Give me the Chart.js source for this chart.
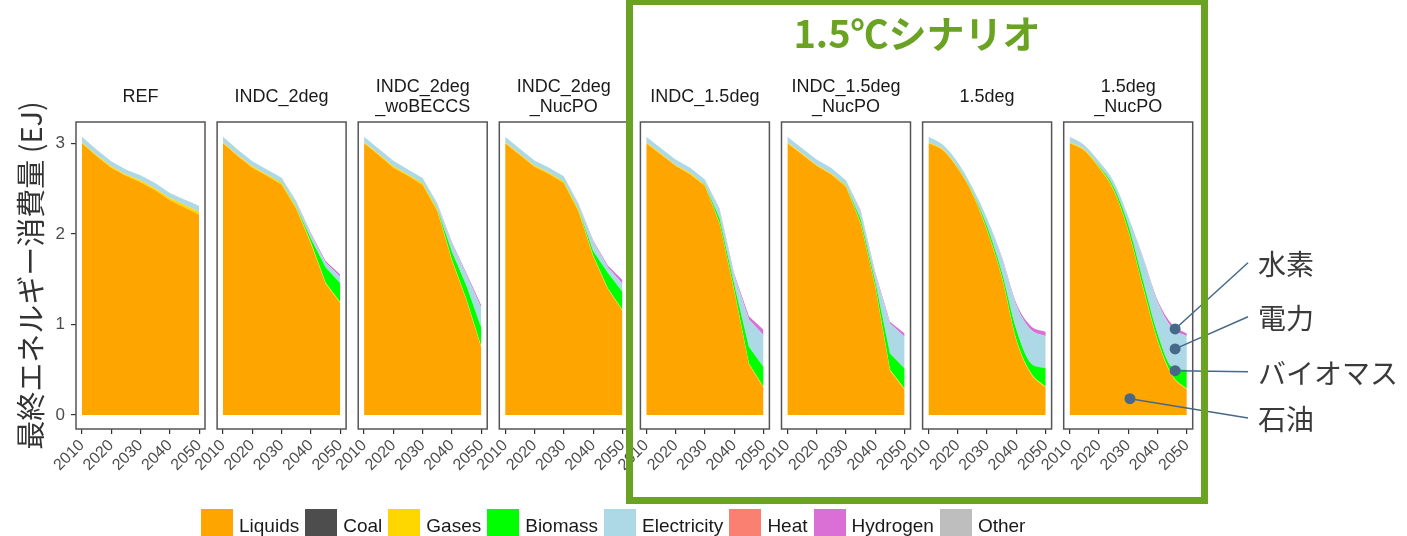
<!DOCTYPE html>
<html><head><meta charset="utf-8">
<script src="https://cdn.jsdelivr.net/npm/chart.js@4/dist/chart.umd.min.js"></script>
<style>
html,body{margin:0;padding:0;background:#fff;}
#wrap{position:relative;width:1407px;height:536px;overflow:hidden;background:#fff;}
canvas.panel{position:absolute;left:0;top:0;}
.strip{position:absolute;text-align:center;font-family:"Liberation Sans",Arial,sans-serif;font-size:18px;line-height:20px;color:#1a1a1a;white-space:nowrap;}
#frame{position:absolute;left:626px;top:-2px;width:582px;height:506px;box-sizing:border-box;border:7px solid #6aa321;}
#ftitle{position:absolute;left:626px;width:582px;top:11px;text-align:center;font-family:"Noto Sans CJK JP",sans-serif;font-weight:700;font-size:38px;line-height:42px;color:#6aa321;}
.ann{position:absolute;left:1258px;font-family:"Noto Sans CJK JP",sans-serif;font-size:28px;line-height:34px;color:#3a3a3a;white-space:nowrap;}
#legend{position:absolute;left:201px;top:509px;display:flex;align-items:flex-start;font-family:"Liberation Sans",Arial,sans-serif;font-size:19px;color:#1a1a1a;}
#legend .sw{display:inline-block;width:32px;height:27px;margin-right:6px;}
#legend .lt{display:inline-block;margin-right:6px;line-height:22px;margin-top:6px;}
</style></head>
<body><div id="wrap"><div id="frame"></div><div id="ftitle">1.5℃シナリオ</div><div id="legend"></div></div>
<script>
// ---- data ----
const years = [2010, 2015, 2020, 2025, 2030, 2035, 2040, 2045, 2050];
const scenarios = ['REF', 'INDC_2deg', 'INDC_2deg_woBECCS', 'INDC_2deg_NucPO', 'INDC_1.5deg', 'INDC_1.5deg_NucPO', '1.5deg', '1.5deg_NucPO'];
const stripLabels = [['REF'], ['INDC_2deg'], ['INDC_2deg', '_woBECCS'], ['INDC_2deg', '_NucPO'], ['INDC_1.5deg'], ['INDC_1.5deg', '_NucPO'], ['1.5deg'], ['1.5deg', '_NucPO']];
const fuels = ['Liquids', 'Coal', 'Gases', 'Biomass', 'Electricity', 'Heat', 'Hydrogen', 'Other'];
const fuelColors = ['#FFA500', '#4D4D4D', '#FFD700', '#00FF00', '#ADD8E6', '#FA8072', '#DA70D6', '#BEBEBE'];
const xTicks = [2010, 2020, 2030, 2040, 2050];
const yTicks = [0, 1, 2, 3];
const smoothPanels = ['1.5deg', '1.5deg_NucPO'];

// one row per scenario (same order as `scenarios`), one value per year (EJ)
const liquids = [
  [3.00, 2.86, 2.73, 2.64, 2.57, 2.48, 2.37, 2.29, 2.21],
  [3.00, 2.86, 2.73, 2.64, 2.545, 2.275, 1.89, 1.45, 1.235],
  [3.00, 2.87, 2.73, 2.64, 2.54, 2.25, 1.70, 1.26, 0.74],
  [3.00, 2.87, 2.74, 2.66, 2.56, 2.25, 1.75, 1.39, 1.15],
  [3.00, 2.875, 2.75, 2.655, 2.53, 2.11, 1.37, 0.56, 0.30],
  [3.00, 2.875, 2.75, 2.655, 2.52, 2.11, 1.41, 0.49, 0.28],
  [3.00, 2.92, 2.72, 2.44, 2.03, 1.52, 0.82, 0.45, 0.30],
  [3.00, 2.92, 2.73, 2.48, 2.03, 1.41, 0.82, 0.43, 0.28]
];
const coal = [0, 0, 0, 0, 0, 0, 0, 0, 0];
const gases = [
  [0.01, 0.01, 0.015, 0.015, 0.02, 0.02, 0.025, 0.03, 0.03],
  [0.01, 0.01, 0.015, 0.015, 0.015, 0.015, 0.015, 0.01, 0.01],
  [0.01, 0.01, 0.015, 0.015, 0.015, 0.015, 0.01, 0.01, 0.01],
  [0.01, 0.01, 0.015, 0.015, 0.015, 0.015, 0.01, 0.01, 0.01],
  [0.01, 0.01, 0.01, 0.015, 0.01, 0.01, 0.01, 0.01, 0.01],
  [0.01, 0.01, 0.01, 0.01, 0.01, 0.01, 0.01, 0.01, 0.01],
  [0.01, 0.01, 0.01, 0.01, 0.01, 0.01, 0.01, 0.01, 0.01],
  [0.01, 0.01, 0.01, 0.01, 0.01, 0.01, 0.01, 0.01, 0.01]
];
const biomass = [
  [0, 0, 0, 0, 0, 0, 0, 0, 0],
  [0, 0, 0, 0, 0.005, 0.01, 0.04, 0.17, 0.21],
  [0, 0, 0, 0, 0.005, 0.01, 0.09, 0.15, 0.21],
  [0, 0, 0, 0, 0.005, 0.01, 0.05, 0.17, 0.20],
  [0, 0, 0, 0, 0.005, 0.05, 0.06, 0.185, 0.22],
  [0, 0, 0, 0, 0.005, 0.04, 0.05, 0.18, 0.225],
  [0, 0, 0.005, 0.01, 0.04, 0.05, 0.11, 0.11, 0.21],
  [0, 0, 0.01, 0.03, 0.06, 0.07, 0.07, 0.09, 0.21]
];
const electricity = [
  [0.06, 0.06, 0.055, 0.055, 0.055, 0.06, 0.055, 0.06, 0.07],
  [0.06, 0.06, 0.055, 0.055, 0.055, 0.055, 0.05, 0.05, 0.07],
  [0.06, 0.06, 0.06, 0.055, 0.055, 0.055, 0.09, 0.12, 0.22],
  [0.06, 0.06, 0.055, 0.055, 0.055, 0.055, 0.105, 0.06, 0.09],
  [0.06, 0.06, 0.06, 0.06, 0.055, 0.10, 0.10, 0.30, 0.35],
  [0.06, 0.06, 0.06, 0.06, 0.055, 0.09, 0.08, 0.33, 0.35],
  [0.06, 0.05, 0.055, 0.05, 0.09, 0.16, 0.27, 0.37, 0.35],
  [0.06, 0.05, 0.05, 0.06, 0.09, 0.25, 0.35, 0.43, 0.37]
];
const heat = [0, 0, 0, 0, 0, 0, 0, 0, 0];
const hydrogen = [
  [0, 0, 0, 0, 0, 0, 0, 0, 0],
  [0, 0, 0, 0, 0, 0.005, 0.015, 0.02, 0.025],
  [0, 0, 0, 0, 0, 0.005, 0.015, 0.02, 0.03],
  [0, 0, 0, 0, 0, 0.005, 0.015, 0.02, 0.04],
  [0, 0, 0, 0, 0, 0.01, 0.02, 0.035, 0.06],
  [0, 0, 0, 0, 0, 0.01, 0.02, 0.02, 0.035],
  [0, 0, 0, 0, 0, 0.01, 0.02, 0.04, 0.05],
  [0, 0, 0, 0, 0, 0.01, 0.02, 0.04, 0.03]
];
const other = [0, 0, 0, 0, 0, 0, 0, 0, 0];

// annotation labels for the last panel
const annLabels = ['水素', '電力', 'バイオマス', '石油'];
const annYears = [2046, 2046, 2046, 2030.6];
const annValues = [0.95, 0.73, 0.49, 0.18];

// ---- layout ----
const W = 1407, H = 536;
const panelLeft0 = 76, panelPitch = 141.1, panelW = 129;
const plotTop = 122, plotBottom = 429;
const xAxisH = 60, yAxisW = 66;
const annTextY = [262.7, 316.7, 371.7, 418];
const annLineX = 1248;

function seriesFor(f, i) {
  switch (f) {
    case 'Liquids': return liquids[i];
    case 'Coal': return coal;
    case 'Gases': return gases[i];
    case 'Biomass': return biomass[i];
    case 'Electricity': return electricity[i];
    case 'Heat': return heat;
    case 'Hydrogen': return hydrogen[i];
    case 'Other': return other;
  }
}

const wrap = document.getElementById('wrap');

const boxPlugin = {
  id: 'panelBox',
  afterDraw(chart) {
    const a = chart.chartArea, ctx = chart.ctx;
    ctx.save();
    ctx.strokeStyle = '#555555';
    ctx.lineWidth = 1.5;
    ctx.strokeRect(a.left, a.top, a.right - a.left, a.bottom - a.top);
    ctx.restore();
  }
};

const annPlugin = {
  id: 'annot',
  afterDraw(chart) {
    const ctx = chart.ctx, xs = chart.scales.x, ys = chart.scales.y;
    ctx.save();
    ctx.strokeStyle = '#46698a';
    ctx.fillStyle = '#46698a';
    ctx.lineWidth = 1.5;
    annLabels.forEach((t, k) => {
      const px = xs.getPixelForValue(annYears[k]);
      const py = ys.getPixelForValue(annValues[k]);
      ctx.beginPath();
      ctx.moveTo(px, py);
      ctx.lineTo(annLineX, annTextY[k]);
      ctx.stroke();
      ctx.beginPath();
      ctx.arc(px, py, 5.5, 0, Math.PI * 2);
      ctx.fill();
    });
    ctx.restore();
  }
};

scenarios.forEach((sc, i) => {
  const left = panelLeft0 + panelPitch * i;
  const cv = document.createElement('canvas');
  cv.className = 'panel';
  cv.width = W; cv.height = H;
  cv.style.width = W + 'px'; cv.style.height = H + 'px';
  wrap.appendChild(cv);

  const smooth = smoothPanels.includes(sc);
  const datasets = fuels.map((f, fi) => ({
    label: f,
    data: years.map((yr, k) => ({ x: yr, y: seriesFor(f, i)[k] })),
    backgroundColor: fuelColors[fi],
    borderColor: fuelColors[fi],
    borderWidth: 0,
    pointRadius: 0,
    tension: 0,
    cubicInterpolationMode: smooth ? 'monotone' : 'default',
    fill: fi === 0 ? 'origin' : '-1'
  }));

  const first = i === 0;
  new Chart(cv, {
    type: 'line',
    data: { datasets },
    plugins: i === scenarios.length - 1 ? [boxPlugin, annPlugin] : [boxPlugin],
    options: {
      responsive: false,
      animation: false,
      devicePixelRatio: 1,
      layout: {
        padding: {
          left: first ? left - yAxisW : left,
          right: W - (left + panelW),
          top: plotTop,
          bottom: H - plotBottom - xAxisH
        }
      },
      plugins: { legend: { display: false }, tooltip: { enabled: false } },
      scales: {
        x: {
          type: 'linear', min: 2008, max: 2052,
          afterBuildTicks: s => { s.ticks = xTicks.map(v => ({ value: v })); },
          afterFit: s => { s.height = xAxisH; },
          grid: { drawOnChartArea: false, drawTicks: true, tickLength: 5, color: '#333333', lineWidth: 1.2 },
          border: { display: false },
          ticks: {
            autoSkip: false, minRotation: 45, maxRotation: 45, padding: 2,
            color: '#4d4d4d', font: { family: 'Liberation Sans', size: 16 },
            callback: v => String(v)
          }
        },
        y: {
          type: 'linear', stacked: true, min: -0.154, max: 3.234,
          display: first,
          afterBuildTicks: s => { s.ticks = yTicks.map(v => ({ value: v })); },
          afterFit: s => { s.width = first ? yAxisW : 0; },
          grid: { drawOnChartArea: false, drawTicks: true, tickLength: 5, color: '#333333', lineWidth: 1.2 },
          border: { display: false },
          ticks: { color: '#4d4d4d', font: { family: 'Liberation Sans', size: 17 }, padding: 6, callback: v => String(v) },
          title: {
            display: true, text: '最終エネルギー消費量 (EJ)', color: '#333333',
            font: { family: 'Noto Sans CJK JP', size: 29 }, padding: { top: 4, bottom: 0 }
          }
        }
      }
    }
  });

  const st = document.createElement('div');
  st.className = 'strip';
  const lines = stripLabels[i];
  st.style.left = (left - 20) + 'px';
  st.style.width = (panelW + 40) + 'px';
  st.style.top = (95.5 - lines.length * 10) + 'px';
  st.innerHTML = lines.join('<br>');
  wrap.appendChild(st);
});

// frame & title above canvases
wrap.appendChild(document.getElementById('frame'));
wrap.appendChild(document.getElementById('ftitle'));

annLabels.forEach((t, k) => {
  const d = document.createElement('div');
  d.className = 'ann';
  d.textContent = t;
  d.style.top = (annTextY[k] - 17) + 'px';
  wrap.appendChild(d);
});

const lg = document.getElementById('legend');
fuels.forEach((f, fi) => {
  const sw = document.createElement('span');
  sw.className = 'sw';
  sw.style.background = fuelColors[fi];
  const lt = document.createElement('span');
  lt.className = 'lt';
  lt.textContent = f;
  lg.appendChild(sw); lg.appendChild(lt);
});
wrap.appendChild(lg);
</script>
</body></html>
